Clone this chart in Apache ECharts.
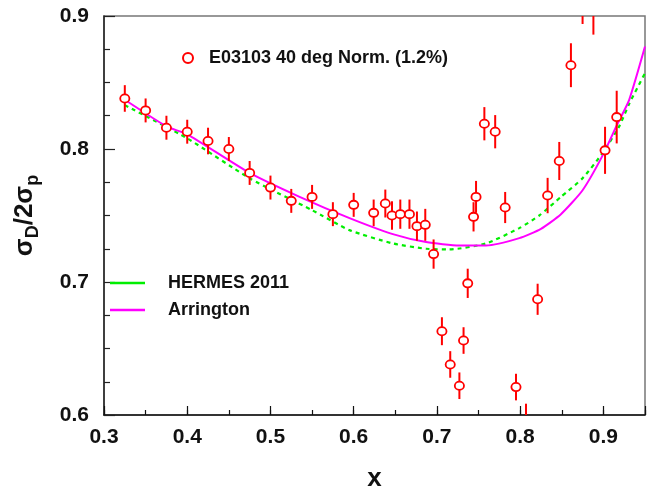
<!DOCTYPE html>
<html>
<head>
<meta charset="utf-8">
<script src="https://cdn.jsdelivr.net/npm/echarts@6/dist/echarts.min.js"></script>
<style>
  html, body { margin: 0; padding: 0; background: #fff; }
  #chart { width: 654px; height: 487px; }
</style>
</head>
<body>
<div id="chart"></div>
<script>
// ---- data ----
const dataName = 'E03103 40 deg Norm. (1.2%)';
const dataX = [0.325,0.350,0.375,0.400,0.425,0.450,0.475,0.500,0.525,0.550,0.575,0.600,0.624,0.638,0.646,0.656,0.667,0.676,0.686,0.696,0.706,0.716,0.727,0.732,0.737,0.744,0.747,0.757,0.770,0.782,0.795,0.807,0.821,0.833,0.847,0.861,0.875,0.888,0.902,0.916];
const dataY = [0.838,0.829,0.816,0.813,0.806,0.800,0.782,0.771,0.761,0.764,0.751,0.758,0.752,0.759,0.750,0.751,0.751,0.742,0.743,0.721,0.663,0.638,0.622,0.656,0.699,0.749,0.764,0.819,0.813,0.756,0.621,0.590,0.687,0.765,0.791,0.863,0.915,0.905,0.799,0.824];
const dataErr = [0.010,0.009,0.009,0.009,0.010,0.009,0.009,0.009,0.009,0.009,0.009,0.009,0.010,0.0105,0.0107,0.011,0.011,0.011,0.012,0.011,0.0105,0.010,0.010,0.010,0.011,0.011,0.012,0.0125,0.0125,0.0117,0.010,0.0185,0.0117,0.0133,0.0143,0.0165,0.021,0.019,0.0177,0.0198];

const hermesName = 'HERMES 2011';
const hermesX = [0.325,0.400,0.475,0.550,0.595,0.647,0.687,0.715,0.759,0.799,0.823,0.849,0.875,0.899,0.919,0.931,0.950];
const hermesY = [0.833,0.808,0.778,0.754,0.739,0.729,0.725,0.7245,0.729,0.7405,0.750,0.764,0.778,0.797,0.817,0.834,0.857];

const arrName = 'Arrington';
const arrX = [0.325,0.375,0.400,0.475,0.535,0.595,0.647,0.687,0.727,0.759,0.799,0.825,0.849,0.875,0.899,0.917,0.931,0.950];
const arrY = [0.837,0.817,0.811,0.782,0.764,0.748,0.736,0.730,0.7275,0.7275,0.733,0.740,0.751,0.769,0.795,0.819,0.837,0.877];

const xTickLabels = ['0.3','0.4','0.5','0.6','0.7','0.8','0.9'];
const yTickLabels = ['0.6','0.7','0.8','0.9'];

// ---- chart ----
const FONT = '"Liberation Sans", Arial, Helvetica, sans-serif';
const RED = '#ff0000';
const chart = echarts.init(document.getElementById('chart'), null, { renderer: 'canvas' });

function pairs(xs, ys) { return xs.map((x, i) => [x, ys[i]]); }
const pointData = dataX.map((x, i) => [x, dataY[i], dataErr[i]]);

function isTenth(v) { return Math.abs(v * 10 - Math.round(v * 10)) < 1e-6; }

const option = {
  animation: false,
  backgroundColor: '#ffffff',
  textStyle: { fontFamily: FONT },
  grid: {
    left: 104, right: 9, top: 16, bottom: 72,
    containLabel: false, outerBoundsMode: 'none',
    show: true, borderColor: '#777', borderWidth: 1.5, backgroundColor: 'transparent'
  },
  legend: [
    {
      data: [{ name: dataName, icon: 'circle',
               itemStyle: { color: '#ffffff', borderColor: RED, borderWidth: 2 } }],
      left: 177, top: 44,
      itemWidth: 32, itemHeight: 10,
      selectedMode: false,
      textStyle: { fontFamily: FONT, fontSize: 18, fontWeight: 'bold', color: '#111' }
    },
    {
      data: [{ name: hermesName, icon: 'rect' }, { name: arrName, icon: 'rect' }],
      orient: 'vertical',
      left: 105, top: 269,
      itemWidth: 35, itemHeight: 2.5, itemGap: 9,
      selectedMode: false,
      textStyle: { fontFamily: FONT, fontSize: 18, fontWeight: 'bold', color: '#111',
                   lineHeight: 18, padding: [0, 0, 0, 18] }
    }
  ],
  xAxis: [
    {
      type: 'value', min: 0.3, max: 0.95, interval: 0.1,
      name: 'x', nameLocation: 'middle', nameGap: 51,
      nameTextStyle: { fontFamily: FONT, fontSize: 26, fontWeight: 'bold', color: '#111' },
      axisLine: { show: true, lineStyle: { color: '#111', width: 1.5 } },
      axisTick: { show: true, inside: true, length: 9, lineStyle: { color: '#111', width: 1.2 } },
      axisLabel: {
        margin: 12, fontFamily: FONT, fontSize: 21, fontWeight: 'bold', color: '#111',
        formatter: v => { if (!isTenth(v)) return ''; const s = v.toFixed(1); return xTickLabels.indexOf(s) >= 0 ? s : ''; }
      },
      splitLine: { show: false }
    },
    {
      type: 'value', min: 0.3, max: 0.95, interval: 0.05, position: 'bottom',
      axisLine: { show: false },
      axisTick: { show: true, inside: true, length: 5, lineStyle: { color: '#111', width: 1.2 } },
      axisLabel: { show: false },
      splitLine: { show: false }
    }
  ],
  yAxis: {
    type: 'value', min: 0.6, max: 0.9, interval: 0.1,
    name: '{a|σ}{b|D}{a|/2σ}{b|p}',
    nameLocation: 'middle', nameRotate: 90, nameGap: 62,
    nameTextStyle: {
      rich: {
        a: { fontFamily: FONT, fontSize: 26, fontWeight: 'bold', color: '#111', lineHeight: 34, verticalAlign: 'middle' },
        b: { fontFamily: FONT, fontSize: 18, fontWeight: 'bold', color: '#111', lineHeight: 34, verticalAlign: 'bottom' }
      }
    },
    axisLine: { show: true, lineStyle: { color: '#222', width: 1.5 } },
    axisTick: { show: true, inside: true, length: 11, lineStyle: { color: '#222', width: 1.2 } },
    minorTick: { show: true, splitNumber: 4, length: 6, lineStyle: { color: '#222', width: 1.2 } },
    axisLabel: {
      margin: 15, fontFamily: FONT, fontSize: 21, fontWeight: 'bold', color: '#111',
      formatter: v => { const s = v.toFixed(1); return yTickLabels.indexOf(s) >= 0 ? s : ''; }
    },
    splitLine: { show: false }
  },
  series: [
    {
      name: hermesName, type: 'line', data: pairs(hermesX, hermesY),
      symbol: 'none', smooth: 0.2, color: '#00ee00',
      lineStyle: { color: '#00ee00', width: 2.2, type: [4, 4] }, z: 3
    },
    {
      name: arrName, type: 'line', data: pairs(arrX, arrY),
      symbol: 'none', smooth: 0.2, color: '#ff00ff',
      lineStyle: { color: '#ff00ff', width: 2 }, z: 4
    },
    {
      name: dataName, type: 'custom', data: pointData, clip: true, z: 5,
      color: RED,
      encode: { x: 0, y: 1 },
      renderItem: function (params, api) {
        const x = api.value(0), y = api.value(1), e = api.value(2);
        const c = api.coord([x, y]);
        const t = api.coord([x, y + e]);
        const b = api.coord([x, y - e]);
        return {
          type: 'group',
          children: [
            { type: 'line', shape: { x1: c[0], y1: t[1], x2: c[0], y2: b[1] },
              style: { stroke: RED, lineWidth: 2 } },
            { type: 'ellipse', shape: { cx: c[0], cy: c[1], rx: 4.6, ry: 4.1 },
              style: { fill: '#ffffff', stroke: RED, lineWidth: 1.8 } }
          ]
        };
      }
    }
  ]
};
chart.setOption(option);
</script>
</body>
</html>
